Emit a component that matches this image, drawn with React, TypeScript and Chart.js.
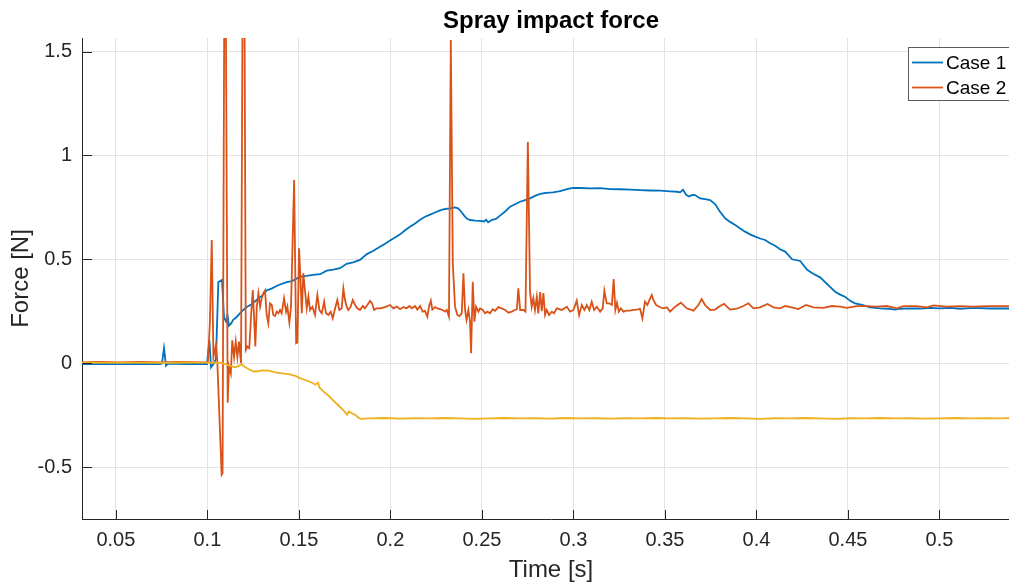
import React, { useEffect, useRef } from "react";
import { Chart, registerables } from "chart.js";

Chart.register(...registerables);

// Time axis ticks [s] and force axis ticks [N]
const timeTicks = [0.05, 0.1, 0.15, 0.2, 0.25, 0.3, 0.35, 0.4, 0.45, 0.5];
const forceTicks = [-0.5, 0, 0.5, 1, 1.5];

// Case 1 — measured impact force
const case1Time = [
  0.0315, 0.0414, 0.0523, 0.0632, 0.0741, 0.0752, 0.0763, 0.0774, 0.0785, 0.0878,
  0.096, 0.0998, 0.1011, 0.102, 0.1036, 0.1047, 0.106, 0.108, 0.1091, 0.1102,
  0.111, 0.1118, 0.1129, 0.1142, 0.1157, 0.1178, 0.1195, 0.1215, 0.1244, 0.1277,
  0.1299, 0.1324, 0.1353, 0.1386, 0.1434, 0.1463, 0.1506, 0.1543, 0.1577, 0.1616,
  0.1652, 0.1687, 0.1725, 0.1761, 0.1796, 0.1834, 0.1871, 0.1905, 0.1943, 0.1971,
  0.1998, 0.2025, 0.2053, 0.208, 0.2107, 0.2135, 0.2162, 0.2189, 0.2217, 0.2244,
  0.2271, 0.2299, 0.2326, 0.2353, 0.237, 0.2386, 0.2403, 0.2419, 0.2435, 0.2463,
  0.249, 0.2512, 0.2523, 0.2534, 0.2556, 0.2577, 0.2599, 0.2627, 0.2654, 0.2681,
  0.2708, 0.2736, 0.2763, 0.279, 0.2818, 0.285, 0.2889, 0.2927, 0.2965, 0.2998,
  0.3036, 0.3091, 0.3146, 0.32, 0.3255, 0.331, 0.3364, 0.3419, 0.3474, 0.3528,
  0.3566, 0.3583, 0.3599, 0.3616, 0.3632, 0.3649, 0.3665, 0.3692, 0.3719, 0.3747,
  0.3774, 0.3801, 0.3829, 0.3856, 0.3884, 0.3911, 0.3938, 0.3965, 0.3993, 0.402,
  0.4047, 0.4075, 0.4102, 0.4129, 0.4157, 0.4195, 0.4239, 0.4277, 0.431, 0.4348,
  0.4392, 0.443, 0.4457, 0.4484, 0.4512, 0.4539, 0.4577, 0.4621, 0.4676, 0.4719,
  0.4757, 0.4785, 0.4839, 0.4894, 0.4949, 0.5003, 0.5058, 0.5113, 0.5168, 0.5222,
  0.5277, 0.5332, 0.5397,
];
const case1Force = [
  -0.004, -0.003, -0.005, -0.003, -0.004, -0.002, 0.072, -0.012, -0.002, -0.004,
  -0.003, -0.004, 0.11, -0.02, 0.0, 0.02, 0.39, 0.4, 0.22, 0.2,
  0.23, 0.18, 0.19, 0.21, 0.22, 0.24, 0.255, 0.27, 0.285, 0.31,
  0.325, 0.35, 0.36, 0.375, 0.39, 0.395, 0.416, 0.42, 0.425, 0.428,
  0.445, 0.45, 0.457, 0.478, 0.485, 0.497, 0.525, 0.54, 0.56, 0.575,
  0.59, 0.605, 0.62, 0.64, 0.657, 0.672, 0.69, 0.705, 0.715, 0.725,
  0.735, 0.742, 0.745, 0.75, 0.745, 0.73, 0.71, 0.695, 0.689, 0.686,
  0.685, 0.682, 0.69, 0.678, 0.69, 0.694, 0.71, 0.73, 0.753, 0.765,
  0.777, 0.785, 0.793, 0.805, 0.815, 0.82, 0.822, 0.828, 0.838, 0.844,
  0.843, 0.841, 0.842, 0.838, 0.837, 0.835, 0.833, 0.831, 0.83, 0.827,
  0.825, 0.822, 0.835, 0.81, 0.802, 0.81, 0.809, 0.793, 0.789, 0.785,
  0.766, 0.729, 0.697, 0.68, 0.665, 0.648, 0.633, 0.62, 0.609, 0.6,
  0.593, 0.577, 0.565, 0.548, 0.537, 0.5, 0.492, 0.449, 0.43, 0.413,
  0.376, 0.344, 0.33, 0.32, 0.3, 0.288, 0.28, 0.269, 0.264, 0.262,
  0.258, 0.262, 0.264, 0.263, 0.266, 0.264, 0.266, 0.262, 0.265, 0.265,
  0.263, 0.264, 0.263,
];

// Case 2 — measured impact force
const case2Time = [
  0.0315, 0.0414, 0.0523, 0.0632, 0.0741, 0.085, 0.096, 0.1003, 0.1014, 0.1024,
  0.1033, 0.1047, 0.1054, 0.1078, 0.1083, 0.1093, 0.11, 0.1111, 0.1118, 0.1128,
  0.1136, 0.1146, 0.1155, 0.1164, 0.1173, 0.1184, 0.1193, 0.1202, 0.121, 0.1218,
  0.1229, 0.1239, 0.1248, 0.1255, 0.1262, 0.127, 0.1279, 0.1288, 0.1297, 0.1306,
  0.1315, 0.1324, 0.1333, 0.1342, 0.1352, 0.136, 0.137, 0.1379, 0.1388, 0.1397,
  0.1406, 0.1419, 0.143, 0.1437, 0.1448, 0.1457, 0.1474, 0.1485, 0.1492, 0.1501,
  0.1508, 0.1516, 0.1524, 0.1534, 0.1543, 0.1552, 0.1561, 0.1574, 0.1588, 0.1601,
  0.1612, 0.1625, 0.1638, 0.1648, 0.1661, 0.1674, 0.1685, 0.1698, 0.171, 0.1721,
  0.1734, 0.1743, 0.1752, 0.1761, 0.177, 0.1783, 0.1794, 0.1807, 0.1819, 0.1834,
  0.1849, 0.1861, 0.1874, 0.1889, 0.19, 0.1911, 0.1925, 0.1943, 0.1971, 0.1998,
  0.2016, 0.2035, 0.2053, 0.2071, 0.2089, 0.2104, 0.2117, 0.2135, 0.2147, 0.2162,
  0.2177, 0.2189, 0.2202, 0.2211, 0.2221, 0.2229, 0.2244, 0.2257, 0.2271, 0.2286,
  0.2299, 0.2308, 0.232, 0.233, 0.2341, 0.2353, 0.2366, 0.2377, 0.239, 0.2399,
  0.2408, 0.2416, 0.2426, 0.2435, 0.2441, 0.245, 0.2459, 0.2468, 0.2481, 0.249,
  0.2505, 0.2517, 0.253, 0.2544, 0.2559, 0.2572, 0.259, 0.2608, 0.2627, 0.2645,
  0.2663, 0.2681, 0.2691, 0.2699, 0.2709, 0.2727, 0.2738, 0.2751, 0.2763, 0.2772,
  0.2781, 0.279, 0.28, 0.2808, 0.2818, 0.2827, 0.2836, 0.2845, 0.2854, 0.2867,
  0.2882, 0.2894, 0.2909, 0.2936, 0.2964, 0.2982, 0.3, 0.3018, 0.3031, 0.3046,
  0.306, 0.3073, 0.3087, 0.31, 0.3113, 0.3128, 0.3146, 0.316, 0.3169, 0.3182,
  0.3196, 0.321, 0.322, 0.3229, 0.3238, 0.3248, 0.3259, 0.3273, 0.3291, 0.331,
  0.3328, 0.3346, 0.3364, 0.3377, 0.3391, 0.3404, 0.3415, 0.3428, 0.3437, 0.3452,
  0.3474, 0.3492, 0.351, 0.3528, 0.3556, 0.3587, 0.3619, 0.3656, 0.3683, 0.3701,
  0.3719, 0.3747, 0.3774, 0.3801, 0.3823, 0.3856, 0.3893, 0.3929, 0.3956, 0.3983,
  0.402, 0.406, 0.4093, 0.4129, 0.4157, 0.4193, 0.4229, 0.4271, 0.4311, 0.4366,
  0.4412, 0.4457, 0.4494, 0.4548, 0.4603, 0.4658, 0.4712, 0.4767, 0.4803, 0.4876,
  0.4931, 0.4967, 0.504, 0.5113, 0.5186, 0.5259, 0.5332, 0.5397,
];
const case2Force = [
  0.004, 0.006, 0.004, 0.006, 0.004, 0.006, 0.004, 0.005, 0.2, 0.593,
  0.03, 0.088, 0.016, -0.537, -0.53, 1.9, 1.9, -0.19, -0.016, -0.05,
  0.11, 0.03, 0.104, 0.03, 0.104, 0.0, 1.9, 1.9, 0.064, 0.08,
  0.072, 0.232, 0.352, 0.224, 0.08, 0.272, 0.337, 0.272, 0.313, 0.337,
  0.35, 0.232, 0.192, 0.288, 0.28, 0.232, 0.227, 0.248, 0.24, 0.256,
  0.24, 0.313, 0.248, 0.272, 0.195, 0.272, 0.881, 0.096, 0.1, 0.553,
  0.416, 0.24, 0.433, 0.344, 0.264, 0.32, 0.256, 0.272, 0.232, 0.328,
  0.256, 0.24, 0.296, 0.24, 0.232, 0.248, 0.216, 0.264, 0.304, 0.256,
  0.264, 0.36, 0.304, 0.272, 0.256, 0.272, 0.304, 0.28, 0.264, 0.256,
  0.275, 0.264, 0.28, 0.3, 0.288, 0.256, 0.264, 0.264, 0.27, 0.28,
  0.264, 0.272, 0.26, 0.27, 0.264, 0.275, 0.264, 0.275, 0.258, 0.275,
  0.248, 0.252, 0.224, 0.272, 0.301, 0.258, 0.27, 0.264, 0.26, 0.256,
  0.248, 0.256, 0.224, 1.555, 0.48, 0.272, 0.232, 0.227, 0.24, 0.433,
  0.256, 0.208, 0.256, 0.2, 0.048, 0.392, 0.2, 0.272, 0.248, 0.264,
  0.256, 0.24, 0.248, 0.24, 0.26, 0.252, 0.27, 0.264, 0.256, 0.243,
  0.248, 0.256, 0.26, 0.36, 0.256, 0.256, 0.248, 1.065, 0.344, 0.272,
  0.313, 0.256, 0.32, 0.24, 0.342, 0.25, 0.337, 0.232, 0.256, 0.232,
  0.248, 0.24, 0.264, 0.256, 0.272, 0.248, 0.256, 0.301, 0.232, 0.28,
  0.256, 0.28, 0.256, 0.296, 0.256, 0.272, 0.248, 0.264, 0.349, 0.288,
  0.288, 0.28, 0.405, 0.256, 0.291, 0.248, 0.264, 0.248, 0.253, 0.253,
  0.256, 0.258, 0.262, 0.216, 0.296, 0.28, 0.304, 0.328, 0.304, 0.28,
  0.269, 0.264, 0.269, 0.248, 0.272, 0.291, 0.264, 0.253, 0.28, 0.308,
  0.28, 0.256, 0.258, 0.275, 0.285, 0.258, 0.262, 0.275, 0.288, 0.264,
  0.269, 0.285, 0.269, 0.264, 0.275, 0.269, 0.26, 0.28, 0.269, 0.266,
  0.275, 0.272, 0.266, 0.275, 0.275, 0.272, 0.275, 0.264, 0.275, 0.275,
  0.269, 0.278, 0.272, 0.275, 0.272, 0.275, 0.275, 0.275,
];

// Third trace (not listed in the legend)
const case3Time = [
  0.0315, 0.0523, 0.0741, 0.096, 0.1069, 0.1098, 0.1125, 0.1153, 0.1171, 0.1189,
  0.1199, 0.1226, 0.1253, 0.1271, 0.1299, 0.1335, 0.1371, 0.1408, 0.1445, 0.1481,
  0.1508, 0.1535, 0.1572, 0.159, 0.1605, 0.1612, 0.1636, 0.1663, 0.169, 0.1718,
  0.1745, 0.1763, 0.1772, 0.179, 0.1809, 0.1823, 0.1836, 0.1889, 0.1971, 0.2053,
  0.2135, 0.2217, 0.2299, 0.2381, 0.2463, 0.2544, 0.2627, 0.2708, 0.279, 0.2872,
  0.2954, 0.3036, 0.3118, 0.32, 0.3282, 0.3364, 0.3446, 0.3528, 0.361, 0.3692,
  0.3774, 0.3856, 0.3938, 0.402, 0.4102, 0.4184, 0.4266, 0.4348, 0.443, 0.4512,
  0.4594, 0.4676, 0.4757, 0.4839, 0.4921, 0.5003, 0.5085, 0.5168, 0.525, 0.5332,
  0.5397,
];
const case3Force = [
  0.002, 0.003, 0.002, 0.003, 0.002, -0.005, -0.013, -0.02, -0.013, -0.005,
  -0.015, -0.029, -0.04, -0.04, -0.035, -0.036, -0.044, -0.049, -0.053, -0.061,
  -0.073, -0.081, -0.094, -0.104, -0.094, -0.117, -0.138, -0.157, -0.181, -0.205,
  -0.228, -0.249, -0.233, -0.241, -0.249, -0.26, -0.268, -0.266, -0.264, -0.267,
  -0.265, -0.266, -0.264, -0.266, -0.268, -0.266, -0.264, -0.266, -0.265, -0.267,
  -0.264, -0.266, -0.265, -0.267, -0.265, -0.266, -0.264, -0.266, -0.265, -0.267,
  -0.266, -0.264, -0.266, -0.268, -0.265, -0.266, -0.264, -0.266, -0.268, -0.265,
  -0.266, -0.264, -0.266, -0.265, -0.267, -0.266, -0.264, -0.266, -0.265, -0.266,
  -0.264,
];

const seriesLabels = ["Case 1", "Case 2", "Case 3"];
const seriesColors = ["#0072BD", "#D95319", "#EDB120"];
const legendCount = 2;

const FONT = "'Liberation Sans', Arial, Helvetica, sans-serif";
const AXIS_COLOR = "#262626";

const toPoints = (t: number[], f: number[]) => t.map((x, i) => ({ x, y: f[i] }));

const fmt = (v: number) => String(+Number(v).toFixed(4));

// Inward tick marks, centred title and a boxed legend in the upper right corner
const decorPlugin = {
  id: "decor",
  afterDraw(chart: any) {
    const { ctx, chartArea, scales } = chart;
    const xs = scales.x;
    const ys = scales.y;
    ctx.save();
    ctx.strokeStyle = AXIS_COLOR;
    ctx.lineWidth = 1;
    ctx.beginPath();
    timeTicks.forEach((v) => {
      const px = Math.round(xs.getPixelForValue(v)) + 0.5;
      ctx.moveTo(px, chartArea.bottom);
      ctx.lineTo(px, chartArea.bottom - 9);
    });
    forceTicks.forEach((v) => {
      const py = Math.round(ys.getPixelForValue(v)) + 0.5;
      ctx.moveTo(chartArea.left, py);
      ctx.lineTo(chartArea.left + 10, py);
    });
    ctx.stroke();

    // title
    ctx.fillStyle = "#000";
    ctx.font = `bold 24px ${FONT}`;
    ctx.textAlign = "center";
    ctx.textBaseline = "middle";
    ctx.fillText("Spray impact force", (chartArea.left + chartArea.right) / 2, 21);

    // legend
    const boxL = 908.5;
    const boxT = 47.5;
    const boxW = 106;
    const boxH = 53;
    ctx.fillStyle = "#ffffff";
    ctx.fillRect(boxL, boxT, boxW, boxH);
    ctx.strokeStyle = "#5a5a5a";
    ctx.lineWidth = 1;
    ctx.strokeRect(boxL, boxT, boxW, boxH);
    ctx.font = `19px ${FONT}`;
    ctx.textAlign = "left";
    for (let i = 0; i < legendCount; i++) {
      const cy = 62.5 + i * 25;
      ctx.strokeStyle = seriesColors[i];
      ctx.lineWidth = 1.8;
      ctx.beginPath();
      ctx.moveTo(912, cy);
      ctx.lineTo(943, cy);
      ctx.stroke();
      ctx.fillStyle = "#000";
      ctx.fillText(seriesLabels[i], 946, cy + 1);
    }
    ctx.restore();
  },
};

export default function App() {
  const canvasRef = useRef<HTMLCanvasElement | null>(null);

  useEffect(() => {
    document.body.style.margin = "0";
    const canvas = canvasRef.current;
    if (!canvas) return;
    const series = [
      toPoints(case1Time, case1Force),
      toPoints(case2Time, case2Force),
      toPoints(case3Time, case3Force),
    ];
    const chart = new Chart(canvas, {
      type: "line",
      data: {
        datasets: series.map((data, i) => ({
          label: seriesLabels[i],
          data,
          borderColor: seriesColors[i],
          backgroundColor: seriesColors[i],
          borderWidth: 1.8,
          pointRadius: 0,
          tension: 0,
          fill: false,
          order: 3 - i,
        })),
      },
      options: {
        responsive: false,
        animation: false,
        devicePixelRatio: 1,
        layout: { padding: { top: 38, right: 5, left: 0, bottom: 0 } },
        plugins: {
          legend: { display: false },
          title: { display: false },
          tooltip: { enabled: false },
        },
        scales: {
          x: {
            type: "linear",
            min: 0.0315,
            max: 0.544,
            afterBuildTicks: (scale: any) => {
              scale.ticks = timeTicks.map((value) => ({ value }));
            },
            afterFit: (scale: any) => {
              scale.height = 63;
            },
            grid: { color: "#e3e3e3", lineWidth: 1, drawTicks: false },
            border: { display: true, color: AXIS_COLOR, width: 1 },
            ticks: {
              color: AXIS_COLOR,
              font: { family: FONT, size: 20 },
              padding: 9,
              maxRotation: 0,
              autoSkip: false,
              callback: (v: any) => fmt(v),
            },
            title: {
              display: true,
              text: "Time [s]",
              color: AXIS_COLOR,
              font: { family: FONT, size: 24, lineHeight: 1 },
              padding: { top: 0, bottom: 0 },
            },
          },
          y: {
            type: "linear",
            min: -0.75,
            max: 1.565,
            afterBuildTicks: (scale: any) => {
              scale.ticks = forceTicks.map((value) => ({ value }));
            },
            afterFit: (scale: any) => {
              scale.width = 82;
            },
            grid: { color: "#e3e3e3", lineWidth: 1, drawTicks: false },
            border: { display: true, color: AXIS_COLOR, width: 1 },
            ticks: {
              color: AXIS_COLOR,
              font: { family: FONT, size: 20 },
              padding: 10,
              autoSkip: false,
              callback: (v: any) => fmt(v),
            },
            title: {
              display: true,
              text: "Force [N]",
              color: AXIS_COLOR,
              font: { family: FONT, size: 24, lineHeight: 1 },
              padding: { top: 9, bottom: 0 },
            },
          },
        },
      },
      plugins: [decorPlugin],
    });
    return () => chart.destroy();
  }, []);

  return (
    <div style={{ width: 1009, height: 582, overflow: "hidden" }}>
      <canvas ref={canvasRef} width={1025} height={582} style={{ display: "block" }} />
    </div>
  );
}
